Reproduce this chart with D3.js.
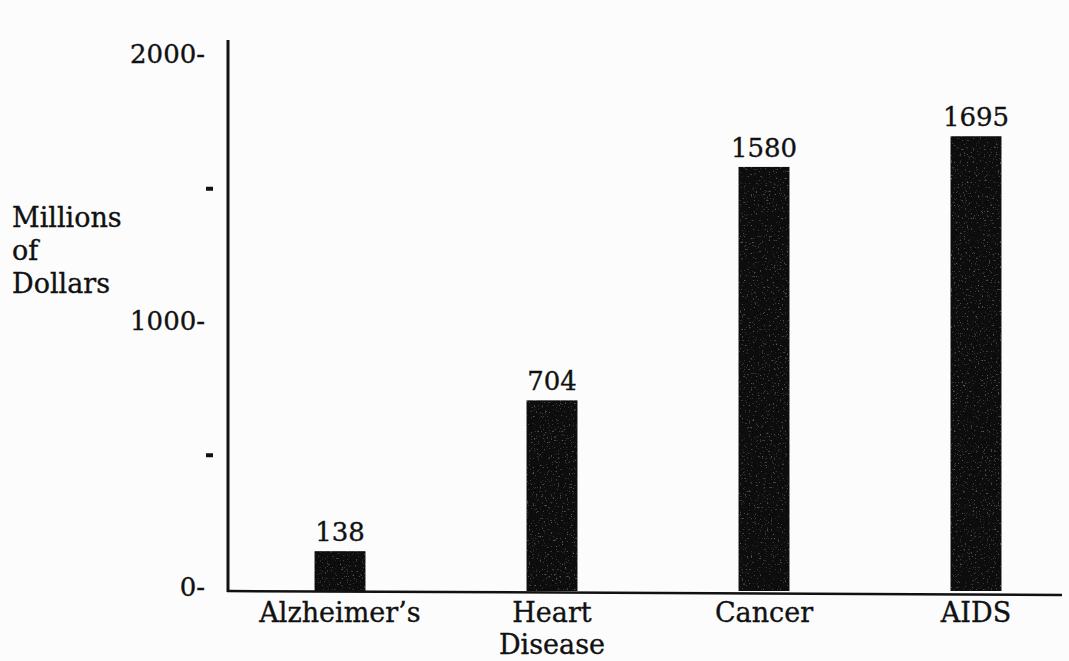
<!DOCTYPE html>
<html>
<head>
<meta charset="utf-8">
<script src="https://cdn.jsdelivr.net/npm/d3@7"></script>
<style>
  html, body { margin: 0; padding: 0; background: #fcfcfd; }
  svg { display: block; }
  text { font-family: "DejaVu Serif", "Liberation Serif", serif; fill: #111; stroke: #111; stroke-width: 0.35; }
</style>
</head>
<body>
<svg id="chart" width="1069" height="661"></svg>
<script>
// Research funding by disease, millions of dollars
const categories = ["Alzheimer’s", "Heart Disease", "Cancer", "AIDS"];
const categoryLines = [["Alzheimer’s"], ["Heart", "Disease"], ["Cancer"], ["AIDS"]];
const funding = [138, 704, 1580, 1695];
const majorTicks = [0, 1000, 2000];
const minorTicks = [500, 1500];
const yTitleLines = ["Millions", "of", "Dollars"];

const svg = d3.select("#chart");
const W = 1069, H = 661;
svg.append("rect").attr("width", W).attr("height", H).attr("fill", "#fcfcfd");

// faint mottling on the bars
const defs = svg.append("defs");
const f = defs.append("filter").attr("id", "grain").attr("x", 0).attr("y", 0).attr("width", 1).attr("height", 1);
f.append("feTurbulence").attr("type", "fractalNoise").attr("baseFrequency", 0.55).attr("numOctaves", 2).attr("seed", 7).attr("result", "n");
f.append("feColorMatrix").attr("in", "n").attr("type", "matrix")
  .attr("values", "0 0 0 0 0.2  0 0 0 0 0.22  0 0 0 0 0.21  0 0 0 2.4 -1.55").attr("result", "spk");
f.append("feComposite").attr("in", "spk").attr("in2", "SourceGraphic").attr("operator", "in").attr("result", "spk2");
f.append("feMerge").call(m => { m.append("feMergeNode").attr("in", "SourceGraphic"); m.append("feMergeNode").attr("in", "spk2"); });

const axisX = 228, baseY = 591;
const y = d3.scaleLinear().domain([0, 2000]).range([588, 55]);
const x = d3.scaleBand().domain(categories).range([234, 1082]).paddingInner(0.76).paddingOuter(0.38);

// bars
svg.append("g").selectAll("rect").data(funding).join("rect")
  .attr("x", (d, i) => x(categories[i]))
  .attr("width", x.bandwidth())
  .attr("y", d => y(d))
  .attr("height", d => baseY - y(d))
  .attr("fill", "#080808")
  .attr("filter", "url(#grain)");

// value labels
svg.append("g").selectAll("text").data(funding).join("text")
  .attr("x", (d, i) => x(categories[i]) + x.bandwidth() / 2)
  .attr("y", d => y(d) - 10)
  .attr("text-anchor", "middle")
  .attr("font-size", 26)
  .text(d => d);

// y axis: major labels carry a trailing dash, minor ticks are a lone dash
const yAxis = d3.axisLeft(y)
  .tickValues(majorTicks.concat(minorTicks))
  .tickSize(0)
  .tickPadding(23)
  .tickFormat(d => majorTicks.includes(d) ? d + "-" : "");
const gy = svg.append("g").attr("transform", `translate(${axisX},0)`).call(yAxis);
gy.select(".domain").remove();
gy.selectAll("text").attr("font-size", 26).attr("font-family", "DejaVu Serif, serif")
  .attr("fill", "#111").attr("stroke", "#111").attr("stroke-width", 0.35).attr("dy", "0.3em");
gy.selectAll(".tick").filter(d => minorTicks.includes(d))
  .append("rect").attr("x", -22).attr("y", -2).attr("width", 7).attr("height", 4).attr("fill", "#111");

// axis lines
svg.append("line").attr("x1", axisX).attr("x2", axisX).attr("y1", 40).attr("y2", baseY + 1)
  .attr("stroke", "#111").attr("stroke-width", 3);
svg.append("line").attr("x1", axisX - 1).attr("x2", 1062).attr("y1", baseY).attr("y2", baseY + 4)
  .attr("stroke", "#111").attr("stroke-width", 2.5);

// category labels
const cat = svg.append("g").selectAll("text").data(categories).join("text")
  .attr("x", d => x(d) + x.bandwidth() / 2)
  .attr("y", 622)
  .attr("text-anchor", "middle")
  .attr("font-size", 27);
cat.each(function(d, i) {
  d3.select(this).selectAll("tspan").data(categoryLines[i]).join("tspan")
    .attr("x", x(d) + x.bandwidth() / 2)
    .attr("dy", (t, j) => j === 0 ? 0 : 32)
    .text(t => t);
});

// y-axis title
svg.append("text").attr("x", 12).attr("y", 227).attr("font-size", 27)
  .selectAll("tspan").data(yTitleLines).join("tspan")
  .attr("x", 12).attr("dy", (t, j) => j === 0 ? 0 : 33)
  .text(t => t);
</script>
</body>
</html>
